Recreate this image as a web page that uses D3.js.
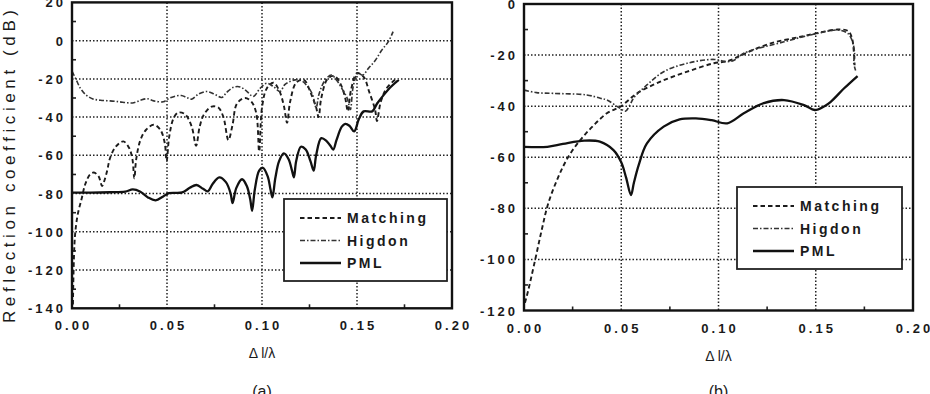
<!DOCTYPE html>
<html>
<head>
<meta charset="utf-8">
<script src="https://cdn.jsdelivr.net/npm/d3@7"></script>
<style>
  body { margin: 0; background: #fff; }
  svg { display: block; }
  text { font-family: "Liberation Sans", Arial, sans-serif; fill: #1a1a1a; }
</style>
</head>
<body>
<svg id="chart" width="930" height="394"></svg>
<script>
// ---- data ----
const xTicks = [0, 0.05, 0.10, 0.15, 0.20];
const yTicksA = [20, 0, -20, -40, -60, -80, -100, -120, -140];
const yTicksB = [0, -20, -40, -60, -80, -100, -120];
const legendLabels = ['Matching', 'Higdon', 'PML'];
const panelLabels = ['(a)', '(b)'];

const matchingA = [[0.0005,-138],[0.0015,-103],[0.003,-91],[0.005,-83],[0.007,-75],[0.0095,-70],[0.0115,-69],[0.014,-71],[0.0158,-76],[0.0168,-74],[0.0185,-68],[0.02,-61.5],[0.023,-55.5],[0.027,-52.7],[0.030,-56],[0.0318,-62],[0.0328,-72],[0.0338,-62],[0.036,-52],[0.039,-46.6],[0.043,-44],[0.0465,-46.6],[0.0488,-53.5],[0.0498,-63],[0.0512,-50],[0.0535,-40.5],[0.056,-37.6],[0.0595,-38.5],[0.063,-45],[0.0653,-55],[0.0672,-45],[0.0695,-38.5],[0.0735,-34.5],[0.077,-35],[0.0797,-40],[0.0823,-52],[0.0845,-44],[0.0868,-33],[0.091,-30],[0.0945,-32],[0.097,-38],[0.0985,-58],[0.1,-35],[0.1025,-25],[0.106,-22],[0.109,-26],[0.1115,-34],[0.1132,-43],[0.1148,-32],[0.118,-22],[0.122,-20.5],[0.1255,-27],[0.1285,-35],[0.1298,-40],[0.1312,-30],[0.1345,-20],[0.138,-18.5],[0.1415,-23],[0.1438,-30],[0.1452,-37],[0.1468,-26],[0.15,-17],[0.1535,-19],[0.1565,-27],[0.1595,-36],[0.1605,-42],[0.1625,-32],[0.1655,-25],[0.17,-20.5]];
const higdonA = [[0,-16],[0.002,-20],[0.0045,-25],[0.0075,-28.5],[0.011,-30.5],[0.015,-31.2],[0.02,-31.5],[0.025,-32],[0.029,-32.5],[0.0325,-32.5],[0.036,-31.2],[0.0395,-30.4],[0.043,-31.5],[0.048,-32],[0.0505,-30.5],[0.0535,-29.3],[0.0575,-28.7],[0.0605,-29.8],[0.063,-30.6],[0.0665,-28],[0.071,-26.6],[0.075,-28],[0.0788,-29.7],[0.0815,-27],[0.085,-24.4],[0.0885,-24.2],[0.092,-26.5],[0.0954,-29.2],[0.099,-25],[0.1025,-22.3],[0.106,-24],[0.1095,-26.6],[0.112,-23],[0.1147,-21.4],[0.1175,-20.5],[0.1209,-21],[0.124,-24],[0.1265,-28],[0.1285,-35],[0.130,-28],[0.133,-21],[0.1365,-18],[0.1395,-21],[0.142,-25],[0.1448,-30],[0.1465,-36],[0.148,-24],[0.1505,-17],[0.153,-18],[0.156,-14.5],[0.1595,-10.5],[0.163,-5],[0.1665,-0.5],[0.169,4.7]];
const pmlA = [[0,-79.5],[0.01,-79.5],[0.02,-79.3],[0.028,-79],[0.032,-77.8],[0.036,-79],[0.04,-82],[0.044,-83.5],[0.048,-81.5],[0.051,-79.8],[0.058,-79.4],[0.062,-77],[0.0655,-75.5],[0.069,-77.5],[0.0715,-78.8],[0.074,-75],[0.0775,-71.5],[0.081,-74],[0.0835,-80],[0.0845,-85],[0.0865,-77],[0.0895,-72.5],[0.092,-76],[0.0938,-83],[0.0948,-89],[0.0962,-78],[0.0985,-68],[0.1005,-66.5],[0.103,-71],[0.1045,-78],[0.1055,-82],[0.107,-72],[0.109,-63],[0.1115,-59],[0.114,-62],[0.1158,-68],[0.1168,-71.5],[0.118,-63],[0.1205,-55.5],[0.123,-57],[0.1255,-63],[0.1272,-68],[0.1285,-60],[0.1312,-51],[0.134,-52.5],[0.136,-55],[0.1375,-57],[0.1392,-52],[0.142,-45],[0.1438,-43.5],[0.146,-44.5],[0.1485,-47.5],[0.151,-41],[0.1535,-37],[0.158,-37],[0.1605,-33],[0.164,-28.5],[0.168,-24],[0.172,-20.5]];

const matchingB = [[0.0005,-117],[0.0022,-112],[0.0057,-100.3],[0.0091,-88.5],[0.0125,-78],[0.0177,-67.6],[0.0228,-59.8],[0.0289,-53.3],[0.0357,-47.6],[0.0426,-42.8],[0.0495,-40.2],[0.0581,-35],[0.0701,-30.4],[0.0839,-26.5],[0.0976,-23.2],[0.105,-22.3],[0.113,-19.6],[0.1268,-15.4],[0.1423,-12.8],[0.1526,-11.1],[0.1612,-10],[0.1665,-10.5],[0.1685,-13],[0.1695,-18],[0.17,-24]];
const higdonB = [[0,-33.7],[0.0065,-34.7],[0.0151,-35],[0.0323,-35.6],[0.0392,-36.9],[0.0426,-37.6],[0.0495,-40.9],[0.0521,-42],[0.0545,-39.5],[0.0563,-36.9],[0.0632,-31.7],[0.0718,-26.5],[0.0839,-23.2],[0.0976,-21.7],[0.1045,-22.6],[0.108,-22],[0.113,-19.3],[0.1337,-14.8],[0.1509,-11.5],[0.1612,-10.2],[0.1665,-11.5],[0.169,-15],[0.17,-20],[0.1695,-23],[0.1705,-26]];
const pmlB = [[0,-55.9],[0.012,-55.9],[0.02,-54.8],[0.031,-53.5],[0.039,-53.9],[0.046,-57.2],[0.05,-62],[0.0525,-68],[0.055,-74.8],[0.0565,-70],[0.059,-63],[0.0632,-54.6],[0.0718,-48],[0.08,-45.2],[0.0884,-44.8],[0.0965,-45.5],[0.1045,-46.7],[0.113,-42.8],[0.1233,-38.8],[0.1337,-37.6],[0.144,-39.6],[0.1495,-41.5],[0.1545,-40],[0.1577,-38.3],[0.1646,-33],[0.1715,-28.2]];

// ---- drawing ----
const svg = d3.select('#chart');
const LS = 3; // letter spacing of the scanned labels

const styles = [
  { dash: '4.5,3',        width: 1.9, color: '#1c1c1c' },    // Matching
  { dash: '5,2,1.5,2',    width: 1.6, color: '#333' },       // Higdon
  { dash: null,           width: 2.3, color: '#111' }        // PML
];

function drawPanel(p) {
  const x = d3.scaleLinear().domain([0, 0.2]).range([p.left, p.right]);
  const y = d3.scaleLinear().domain(p.yDomain).range([p.bottom, p.top]);
  const g = svg.append('g');

  // dotted grid
  g.append('g').selectAll('line').data(xTicks.slice(1, -1)).join('line')
    .attr('x1', d => x(d)).attr('x2', d => x(d))
    .attr('y1', p.top).attr('y2', p.bottom)
    .attr('stroke', '#222').attr('stroke-width', 1.5).attr('stroke-dasharray', '1.5,2');
  g.append('g').selectAll('line').data(p.yTicks.slice(1, -1)).join('line')
    .attr('y1', d => y(d)).attr('y2', d => y(d))
    .attr('x1', p.left).attr('x2', p.right)
    .attr('stroke', '#222').attr('stroke-width', 1.5).attr('stroke-dasharray', '1.5,2');

  // minor ticks, pointing inward
  const minorX = d3.range(0.025, 0.2, 0.05);
  const minorY = d3.range(p.yDomain[0] + 10, p.yDomain[1], 20);
  g.append('g').selectAll('line').data(minorX).join('line')
    .attr('x1', d => x(d)).attr('x2', d => x(d))
    .attr('y1', p.bottom).attr('y2', p.bottom - 4)
    .attr('stroke', '#222').attr('stroke-width', 1.6);
  g.append('g').selectAll('line').data(minorY).join('line')
    .attr('y1', d => y(d)).attr('y2', d => y(d))
    .attr('x1', p.left).attr('x2', p.left + 4)
    .attr('stroke', '#222').attr('stroke-width', 1.6);

  // tick labels
  g.append('g').selectAll('text').data(xTicks).join('text')
    .attr('x', d => x(d) + LS / 2).attr('y', p.bottom + 22)
    .attr('text-anchor', 'middle')
    .style('font-size', '13px').style('font-weight', 'bold').style('letter-spacing', LS + 'px')
    .text(d => d.toFixed(2));
  g.append('g').selectAll('text').data(p.yTicks).join('text')
    .attr('x', p.left - 9 + LS).attr('y', d => y(d) + 5)
    .attr('text-anchor', 'end')
    .style('font-size', '13px').style('font-weight', 'bold').style('letter-spacing', LS + 'px')
    .text(d => d);

  // curves
  const line = d3.line().x(d => x(d[0])).y(d => y(d[1])).curve(d3.curveCatmullRom.alpha(0.5));
  const clipId = 'clip' + p.id;
  svg.append('clipPath').attr('id', clipId).append('rect')
    .attr('x', p.left).attr('y', p.top).attr('width', p.right - p.left).attr('height', p.bottom - p.top);
  const gc = g.append('g').attr('clip-path', `url(#${clipId})`);
  p.series.forEach((s, i) => {
    gc.append('path').attr('d', line(s))
      .attr('fill', 'none')
      .attr('stroke', styles[i].color)
      .attr('stroke-width', styles[i].width)
      .attr('stroke-dasharray', styles[i].dash)
      .attr('stroke-linejoin', 'round');
  });

  // frame
  g.append('rect')
    .attr('x', p.left).attr('y', p.top)
    .attr('width', p.right - p.left).attr('height', p.bottom - p.top)
    .attr('fill', 'none').attr('stroke', '#111').attr('stroke-width', 2.4);

  // legend
  const lg = g.append('g');
  lg.append('rect')
    .attr('x', p.legend.x).attr('y', p.legend.y)
    .attr('width', p.legend.w).attr('height', p.legend.h)
    .attr('fill', '#fff').attr('stroke', '#222').attr('stroke-width', 1.8);
  legendLabels.forEach((lab, i) => {
    const cy = p.legend.y + 19 + i * 22.5;
    lg.append('line')
      .attr('x1', p.legend.x + 16).attr('x2', p.legend.x + 57)
      .attr('y1', cy).attr('y2', cy)
      .attr('stroke', styles[i].color).attr('stroke-width', styles[i].width)
      .attr('stroke-dasharray', styles[i].dash);
    lg.append('text')
      .attr('x', p.legend.x + 63).attr('y', cy + 5)
      .style('font-size', '14px').style('font-weight', 'bold').style('letter-spacing', '2.5px')
      .text(lab);
  });

  // axis title and panel label
  const cx = (p.left + p.right) / 2;
  const t = g.append('text')
    .attr('x', cx).attr('y', p.bottom + 50)
    .attr('text-anchor', 'middle')
    .style('font-size', '14px');
  t.append('tspan').text('\u0394');
  t.append('tspan').attr('dx', 3).text('l/\u03bb');
  g.append('text')
    .attr('x', cx).attr('y', 397)
    .attr('text-anchor', 'middle')
    .style('font-size', '16px')
    .text(panelLabels[p.id]);
}

drawPanel({
  id: 0, left: 72, right: 452, top: 2.4, bottom: 308.3,
  yDomain: [-140, 20], yTicks: yTicksA,
  series: [matchingA, higdonA, pmlA],
  legend: { x: 284, y: 199, w: 163, h: 82 }
});
drawPanel({
  id: 1, left: 524, right: 913, top: 4, bottom: 310.5,
  yDomain: [-120, 0], yTicks: yTicksB,
  series: [matchingB, higdonB, pmlB],
  legend: { x: 737, y: 187, w: 165, h: 82 }
});

// y axis title of panel (a)
svg.append('text')
  .attr('transform', 'translate(15,323) rotate(-90)')
  .attr('textLength', 313).attr('lengthAdjust', 'spacing')
  .style('font-size', '17px')
  .text('Reflection coefficient (dB)');
</script>
</body>
</html>
